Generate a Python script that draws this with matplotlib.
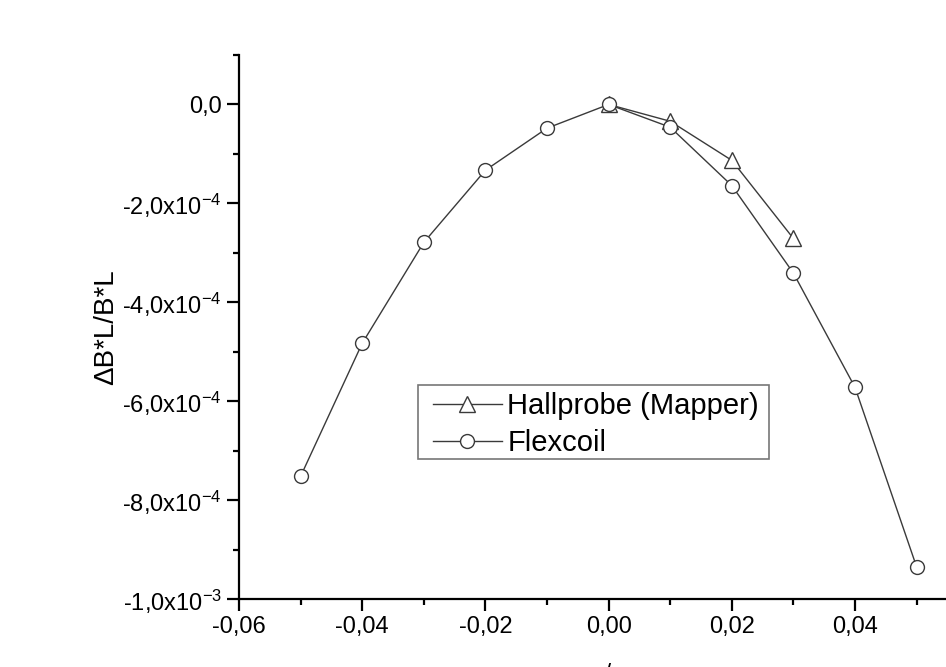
import numpy as np
import matplotlib
matplotlib.use('Agg')
import matplotlib.pyplot as plt
from matplotlib.patches import Rectangle
from matplotlib.ticker import MultipleLocator, FixedLocator, FuncFormatter

plt.rcParams['font.family'] = ['Liberation Sans', 'DejaVu Sans']
plt.rcParams['mathtext.fontset'] = 'custom'
plt.rcParams['mathtext.rm'] = 'Liberation Sans'
plt.rcParams['mathtext.it'] = 'Liberation Sans:italic'

# data
flex_x = [-0.05, -0.04, -0.03, -0.02, -0.01, 0.00, 0.01, 0.02, 0.03, 0.04, 0.05]
flex_y = [-7.52e-4, -4.83e-4, -2.79e-4, -1.33e-4, -0.48e-4, 0.0,
          -0.46e-4, -1.64e-4, -3.41e-4, -5.72e-4, -9.35e-4]
hall_x = [0.00, 0.01, 0.02, 0.03]
hall_y = [0.0, -0.34e-4, -1.13e-4, -2.71e-4]

y_major = [0.0, -2e-4, -4e-4, -6e-4, -8e-4, -1e-3]
y_labels = ['0,0', '-2,0x10$^{-4}$', '-4,0x10$^{-4}$', '-6,0x10$^{-4}$',
            '-8,0x10$^{-4}$', '-1,0x10$^{-3}$']

W, H = 946, 667
fig = plt.figure(figsize=(W / 100, H / 100), dpi=100)
ax = fig.add_axes([239 / W, (H - 599) / H, 1 - 239 / W, (599 - 55) / H])

line_col = '#3a3a3a'
ax.plot(hall_x, hall_y, color=line_col, lw=1.0, marker='^', ms=11,
        mfc='white', mec=line_col, mew=1.0, label='Hallprobe (Mapper)', zorder=3)
ax.plot(flex_x, flex_y, color=line_col, lw=1.0, marker='o', ms=10,
        mfc='white', mec=line_col, mew=1.0, label='Flexcoil', zorder=4)

ax.set_xlim(-0.06, -0.06 + (W - 239) / 6160)
ax.set_ylim(-1e-3, 1e-4)

for s in ['top', 'right']:
    ax.spines[s].set_visible(False)
for s in ['left', 'bottom']:
    ax.spines[s].set_linewidth(1.6)

ax.xaxis.set_major_locator(MultipleLocator(0.02))
ax.xaxis.set_minor_locator(MultipleLocator(0.01))
ax.xaxis.set_major_formatter(FuncFormatter(
    lambda v, p: ('%.2f' % v).replace('.', ',').replace('-0,00', '0,00')))
ax.yaxis.set_major_locator(FixedLocator(y_major))
ax.yaxis.set_minor_locator(FixedLocator([1e-4, -1e-4, -3e-4, -5e-4, -7e-4, -9e-4]))
ax.set_yticklabels(y_labels)

ax.tick_params(which='major', direction='out', length=8.5, width=1.6, labelsize=17, pad=4)
ax.tick_params(which='minor', direction='out', length=4.5, width=1.6)

ax.set_ylabel('ΔB*L/B*L', fontsize=20)
ax.yaxis.set_label_coords(-(239 - 119) / (W - 239), 0.5)

# x axis title, mostly cut off by the bottom edge as in the reference
fig.text(612 / W, -13 / H, 'x / m', fontsize=17, ha='center', va='baseline')

leg = ax.legend(loc='upper left', bbox_to_anchor=(433 / W, (H - 392) / H),
                bbox_transform=fig.transFigure, fontsize=21, frameon=False,
                handlelength=2.35, handletextpad=0.2, labelspacing=0.3,
                borderpad=0, borderaxespad=0)
fig.patches.append(Rectangle((418 / W, (H - 459) / H), (769 - 418) / W, (459 - 385) / H,
                             transform=fig.transFigure, fill=False,
                             edgecolor='#777777', lw=1.2, zorder=5))

fig.savefig('out.png', dpi=100)
